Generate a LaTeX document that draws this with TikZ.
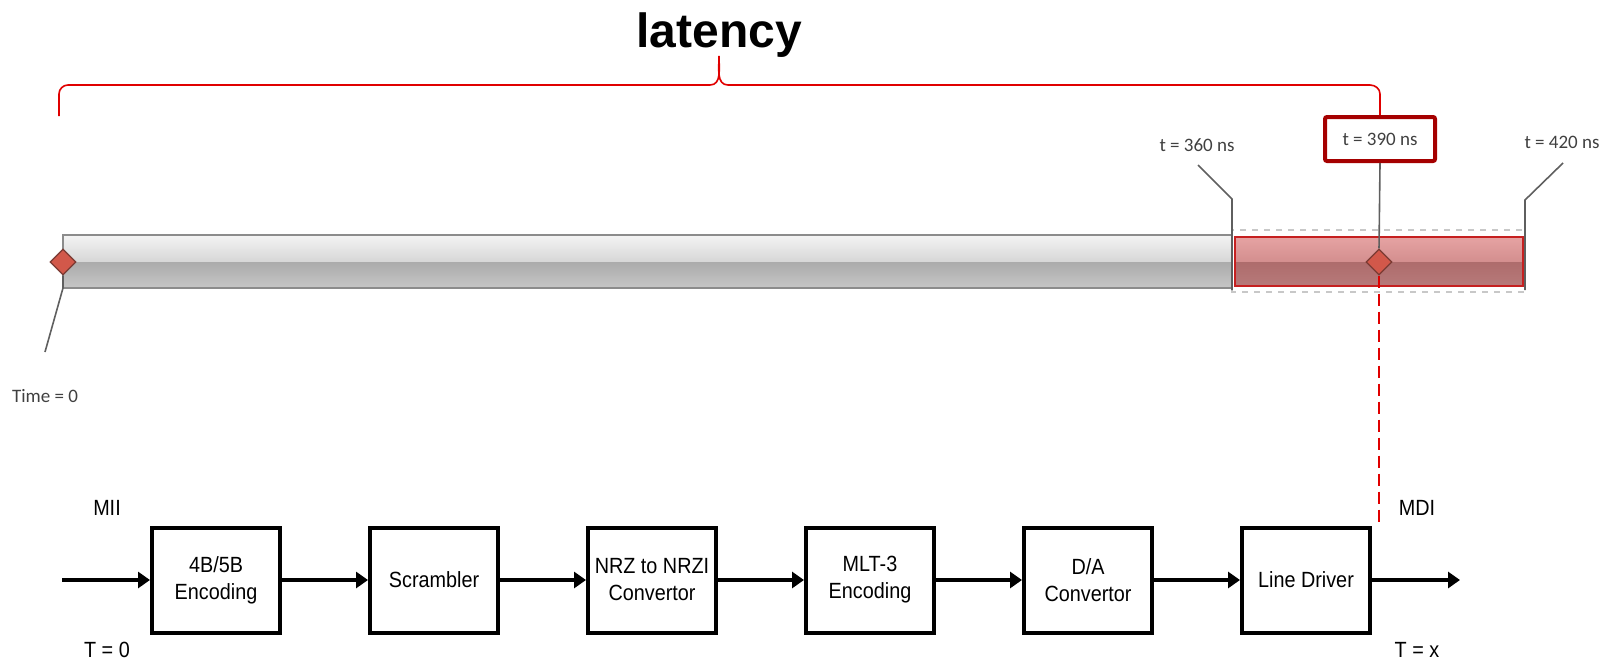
\documentclass[tikz,border=0pt]{standalone}
\usepackage{fontspec}
\setmainfont{Liberation Sans}
\newfontfamily\calibri{Carlito}
\newfontfamily\narrowfont[FakeStretch=0.9]{Liberation Sans}
\usepackage{tikz}
\usetikzlibrary{ % tikz packages
    positioning,
    arrows.meta,shapes.geometric
}
\definecolor{braceRed}{HTML}{E00000}
\definecolor{boxRed}{HTML}{A50000}
\definecolor{markerRed}{HTML}{D2584A}
\definecolor{markerEdge}{HTML}{7A3A33}
\definecolor{leaderGray}{HTML}{5F5F5F}
\definecolor{labelGray}{HTML}{404040}
\definecolor{barEdge}{HTML}{8C8C8C}
\definecolor{barTop}{HTML}{F4F4F4}
\definecolor{barMid}{HTML}{D6D6D6}
\definecolor{barLow}{HTML}{ABABAB}
\definecolor{barBot}{HTML}{C6C6C6}
\definecolor{winTop}{HTML}{E6A3A3}
\definecolor{winMid}{HTML}{D38E8E}
\definecolor{winLow}{HTML}{AE6C6C}
\definecolor{winBot}{HTML}{B77A7A}
\definecolor{winEdge}{HTML}{C62020}
\definecolor{dashGray}{HTML}{C8C8C8}
\tikzset{block/.style={
    draw, line width=2pt,
    minimum width=64pt, minimum height=52.5pt,
    align=center, inner sep=1pt,
    font=\narrowfont\fontsize{11}{13.5}\selectfont
}}
\tikzset{flow/.style={line width=2pt, -{Triangle[length=6pt,width=8pt]}}}
\tikzset{marker/.style={
    diamond, draw=markerEdge, fill=markerRed,
    line width=0.6pt, inner sep=0pt, minimum size=13pt
}}
\tikzset{leader/.style={draw=leaderGray, line width=0.8pt}}
\tikzset{tick/.style={font=\calibri\fontsize{9.5}{11}\selectfont, text=labelGray}}
\tikzset{port/.style={font=\narrowfont\fontsize{11}{13}\selectfont, anchor=base}}

\begin{document}
\begin{tikzpicture}[x=0.5pt,y=-0.5pt,node distance=109pt,on grid]
        \useasboundingbox (0,0) rectangle (1604,659);

        % latency brace
        \node[font=\bfseries\fontsize{24}{28}\selectfont, anchor=base] (title) at (719,47) {latency};
        \node[tick, draw=boxRed, line width=2pt, rounded corners=1pt,
              minimum width=55pt, minimum height=22pt] (t390) at (1380,139) {t = 390 ns};
        \draw[braceRed, line width=0.8pt] (59,116) -- (59,94) to[out=90,in=180] (68,85)
            -- (710,85) to[out=0,in=-90] (719,56) to[out=-90,in=180] (728,85)
            -- (1370,85) to[out=0,in=90] (t390.north |- 0,94) -- (t390.north);

        % time bar
        \shade[top color=barTop, bottom color=barMid] (63,235) rectangle (1232,262);
        \shade[top color=barLow, bottom color=barBot] (63,262) rectangle (1232,288);
        \draw[barEdge, line width=0.6pt] (63,235) rectangle (1232,288);
        \draw[dashGray, dashed, line width=0.6pt] (1232,230) rectangle (1525,292);
        \shade[top color=winTop, bottom color=winMid] (1235,237) rectangle (1523,262);
        \shade[top color=winLow, bottom color=winBot] (1235,262) rectangle (1523,286);
        \draw[winEdge, line width=0.6pt] (1235,237) rectangle (1523,286);

        \node[marker] (start) at (63,262) {};
        \node[marker] (now) at (1379,262) {};

        \node[tick] (time0) at (45,396) {Time = 0};
        \node[tick] (t360) at (1197,145) {t = 360 ns};
        \node[tick] (t420) at (1562,142) {t = 420 ns};

        \coordinate (k0) at (45,352);
        \coordinate (k360) at (1198,165);
        \coordinate (k420) at (1563,163);
        \coordinate (top) at (1379,522);

        \draw[leader] (start.south) -- (63,288) -- (k0);
        \draw[leader] (k360) -- (1232,199) -- (1232,290);
        \draw[leader] (k420) -- (1525,200) -- (1525,290);
        \draw[leader] (t390.south) -- (now.north);
        \draw[braceRed, line width=0.8pt, dash pattern=on 6pt off 3pt] (now.south) -- (top);

        % PHY transmit chain
        \node[block] (enc) at (216,580) {4B/5B\\Encoding};
        \node[block] (scr) [right=of enc] {Scrambler};
        \node[block] (nrz) [right=of scr] {NRZ to NRZI\\Convertor};
        \node[block] (mlt) [right=of nrz] {MLT-3\\Encoding};
        \node[block] (dac) [right=of mlt] {D/A\\Convertor};
        \node[block] (drv) [right=of dac] {Line Driver};

        \coordinate (mii) at (62,580);
        \coordinate (mdi) at (1460,580);

        \node[port] (miiText) at (107,515) {MII};
        \node[port] (t0Text) at (107,657) {T = 0};
        \node[port] (mdiText) at (1417,515) {MDI};
        \node[port] (txText) at (1417,657) {T = x};

        \path[flow]
            (mii) edge (enc)
            (enc) edge (scr)
            (scr) edge (nrz)
            (nrz) edge (mlt)
            (mlt) edge (dac)
            (dac) edge (drv)
            (drv) edge (mdi);
    \end{tikzpicture}
\end{document}
